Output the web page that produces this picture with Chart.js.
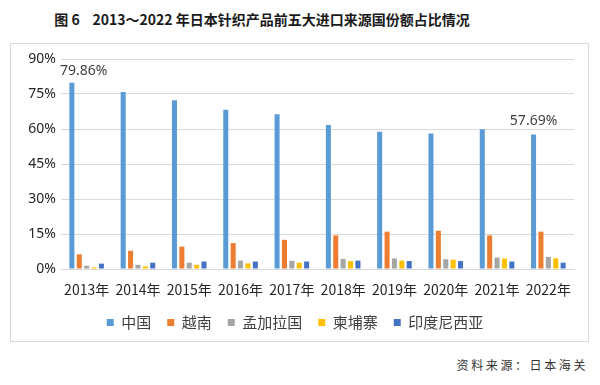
<!DOCTYPE html>
<html><head><meta charset="utf-8">
<script src="https://cdn.jsdelivr.net/npm/chart.js@4/dist/chart.umd.min.js"></script>
<style>
html,body{margin:0;padding:0;background:#fff;}
body{width:600px;height:385px;position:relative;overflow:hidden;font-family:"Noto Sans CJK SC","Noto Sans",sans-serif;}
#title{position:absolute;left:0;top:9px;width:524px;text-align:center;font-size:14px;font-weight:bold;color:#1a1a1a;white-space:pre;}
#box{position:absolute;left:10px;top:43px;width:577px;height:297px;border:1px solid #d9d9d9;}
#wrap{position:absolute;left:0;top:0;width:577px;height:297px;}
#src{position:absolute;right:12px;top:356px;font-size:12px;color:#333;letter-spacing:2.6px;}
</style></head>
<body>
<div id="title">图 6    2013～2022 年日本针织产品前五大进口来源国份额占比情况</div>
<div id="box"><div id="wrap"><canvas id="c"></canvas></div></div>
<div id="src">资料来源：日本海关</div>
<script>
const years = ["2013年","2014年","2015年","2016年","2017年","2018年","2019年","2020年","2021年","2022年"];
const seriesNames = ["中国","越南","孟加拉国","柬埔寨","印度尼西亚"];
const china      = [79.86, 75.9, 72.3, 68.3, 66.3, 61.7, 58.8, 58.1, 59.9, 57.69];
const vietnam    = [6.3, 7.8, 9.6, 11.1, 12.5, 14.4, 16.0, 16.4, 14.4, 16.0];
const bangladesh = [1.4, 1.8, 2.7, 3.6, 3.5, 4.3, 4.5, 4.2, 4.9, 5.2];
const cambodia   = [0.7, 1.1, 1.8, 2.4, 2.7, 3.4, 3.6, 4.0, 4.5, 4.6];
const indonesia  = [2.3, 2.7, 3.2, 3.2, 3.2, 3.6, 3.4, 3.4, 3.2, 2.7];
const yTicks = [0, 15, 30, 45, 60, 75, 90];
const colors = ["#5B9BD5","#ED7D31","#A5A5A5","#FFC000","#4472C4"];
const seriesData = [china, vietnam, bangladesh, cambodia, indonesia];

const labelPlugin = {
  id: 'endLabels',
  afterDatasetsDraw(chart){
    const ctx = chart.ctx;
    const meta = chart.getDatasetMeta(0);
    ctx.save();
    ctx.font = '14px "Noto Sans","Noto Sans CJK SC",sans-serif';
    ctx.fillStyle = '#404040';
    ctx.textBaseline = 'bottom';
    const first = meta.data[0], last = meta.data[meta.data.length-1];
    ctx.textAlign = 'left';
    ctx.fillText(china[0].toFixed(2) + '%', first.x - 12, first.y - 5);
    ctx.textAlign = 'center';
    ctx.fillText(china[china.length-1].toFixed(2) + '%', last.x, last.y - 6);
    ctx.restore();
  }
};

const legendFitPlugin = {
  id: 'legendFit',
  afterInit(chart){
    const lg = chart.legend;
    if (!lg) return;
    const orig = lg.fit;
    lg.fit = function(){ orig.call(this); this.height = this.height - 8; };
  }
};

new Chart(document.getElementById('c'), {
  type: 'bar',
  data: {
    labels: years,
    datasets: seriesNames.map((n,i)=>({
      label: n, data: seriesData[i], backgroundColor: colors[i],
      categoryPercentage: 0.72, barPercentage: 0.68
    }))
  },
  options: {
    responsive: true, maintainAspectRatio: false, animation: false,
    layout: {padding: {left: 5, right: 14, top: 15, bottom: 9}},
    plugins: {
      legend: {
        position: 'bottom',
        labels: {boxWidth: 7, boxHeight: 7, padding: 16, color: '#404040',
          font: {size: 15, family: '"Noto Sans CJK SC","Noto Sans",sans-serif'}}
      },
      tooltip: {enabled: false}
    },
    scales: {
      x: {
        grid: {display: false, drawTicks: false},
        border: {display: true, color: '#d9d9d9'},
        ticks: {color: '#262626', padding: 12, maxRotation: 0,
          font: {size: 14, family: '"Noto Sans CJK SC","Noto Sans",sans-serif'}},
        afterFit(s){ s.height = 30; }
      },
      y: {
        min: 0, max: 90,
        afterBuildTicks(s){ s.ticks = yTicks.map(v=>({value:v})); },
        grid: {color: '#d9d9d9', drawTicks: false},
        border: {display: false},
        ticks: {color: '#262626', padding: 5, callback: v => v + '%',
          font: {size: 14, family: '"Noto Sans","DejaVu Sans",sans-serif'}},
        afterFit(s){ s.width = 45; }
      }
    }
  },
  plugins: [labelPlugin, legendFitPlugin]
});
</script>
</body></html>
